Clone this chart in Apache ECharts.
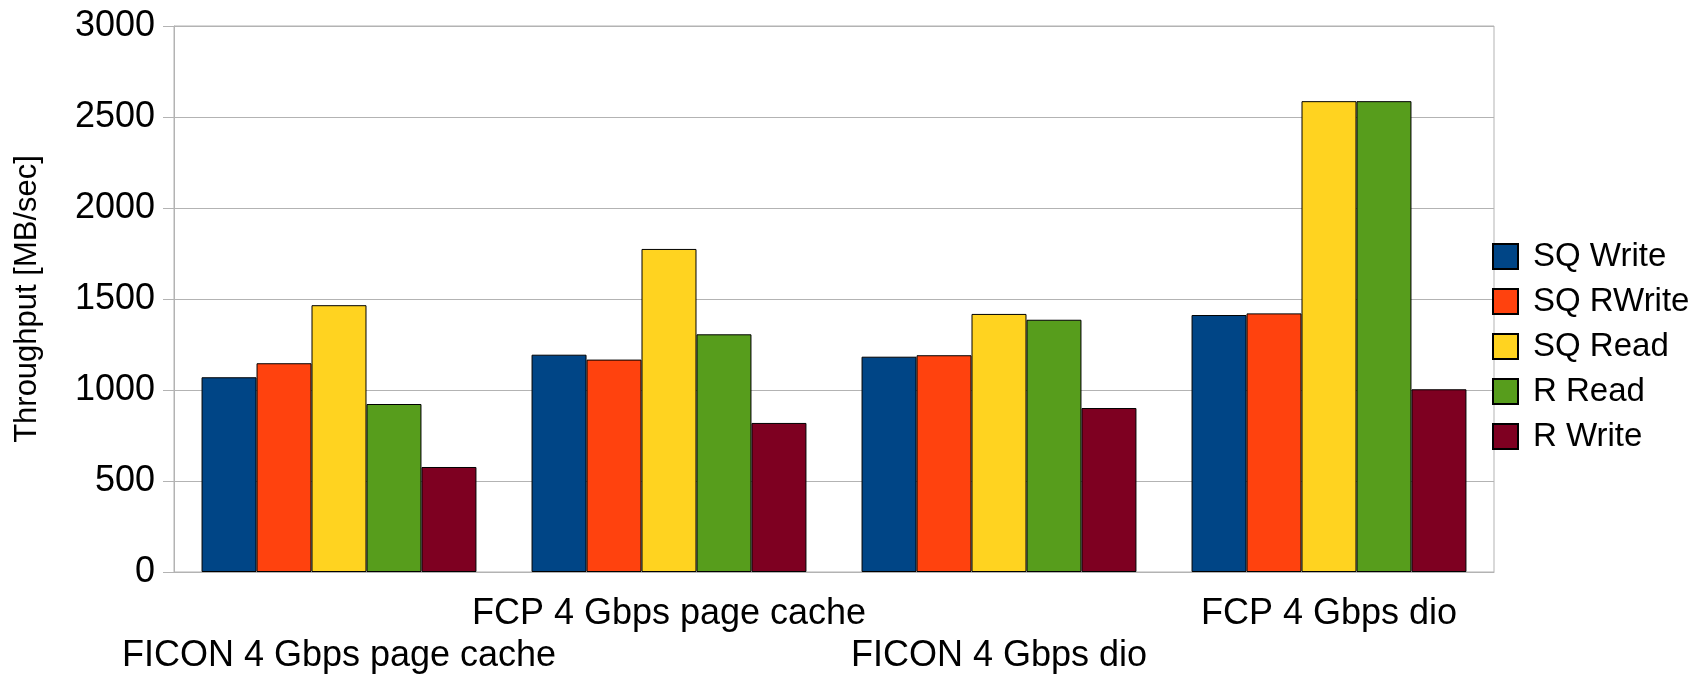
<!DOCTYPE html>
<html>
<head>
<meta charset="utf-8">
<script src="https://cdn.jsdelivr.net/npm/echarts@6/dist/echarts.min.js"></script>
<style>
  html, body { margin: 0; padding: 0; background: #fff; }
  #chart { width: 1696px; height: 674px; }
</style>
</head>
<body>
<div id="chart"></div>
<script>
// Throughput per configuration, MB/sec
const categories = ['FICON 4 Gbps page cache', 'FCP 4 Gbps page cache', 'FICON 4 Gbps dio', 'FCP 4 Gbps dio'];
const seriesNames = ['SQ Write', 'SQ RWrite', 'SQ Read', 'R Read', 'R Write'];
const sqWrite  = [1070, 1194, 1183, 1412];
const sqRWrite = [1147, 1167, 1191, 1421];
const sqRead   = [1466, 1775, 1418, 2587];
const rRead    = [923, 1306, 1386, 2587];
const rWrite   = [577, 819, 901, 1004];
const seriesValues = [sqWrite, sqRWrite, sqRead, rRead, rWrite];
const colors = ['#004586', '#ff420e', '#ffd320', '#579d1c', '#7e0021'];

const FONT = '"Liberation Sans", Arial, sans-serif';
const GRID_GRAY = '#b3b3b3';

const chart = echarts.init(document.getElementById('chart'), null, { renderer: 'canvas' });

chart.setOption({
  animation: false,
  backgroundColor: '#ffffff',
  textStyle: { fontFamily: FONT },
  grid: {
    left: 174, right: 202, top: 26, bottom: 102,
    containLabel: false,
    outerBoundsMode: 'none',
    show: true, borderColor: GRID_GRAY, borderWidth: 1, backgroundColor: 'transparent'
  },
  legend: {
    orient: 'vertical',
    left: 1487, top: 235,
    itemWidth: 25, itemHeight: 25, itemGap: 12,
    icon: 'rect',
    textStyle: { fontFamily: FONT, fontSize: 33, lineHeight: 33, color: '#000', padding: [0, 0, 0, 10] },
    data: seriesNames
  },
  xAxis: {
    type: 'category',
    data: categories,
    boundaryGap: true,
    axisLine: { lineStyle: { color: GRID_GRAY } },
    axisTick: { alignWithLabel: true, length: 13, lineStyle: { color: GRID_GRAY } },
    axisLabel: {
      interval: 0,
      margin: 21,
      fontFamily: FONT, fontSize: 36, color: '#000', lineHeight: 42,
      formatter: (v, i) => (i % 2 === 0 ? ' \n' + v : v)
    },
    splitLine: { show: false }
  },
  yAxis: {
    type: 'value',
    min: 0, max: 3000, interval: 500,
    name: 'Throughput [MB/sec]',
    nameLocation: 'middle',
    nameGap: 131,
    nameTextStyle: { fontFamily: FONT, fontSize: 31, color: '#000' },
    axisLine: { show: true, lineStyle: { color: GRID_GRAY } },
    axisTick: { show: true, length: 11, lineStyle: { color: GRID_GRAY } },
    axisLabel: { margin: 19, fontFamily: FONT, fontSize: 36, color: '#000', formatter: v => String(v) },
    splitLine: { show: true, lineStyle: { color: GRID_GRAY, width: 1 } }
  },
  series: seriesNames.map((name, i) => ({
    name,
    type: 'bar',
    data: seriesValues[i],
    barGap: '0%',
    barCategoryGap: '16.7%',
    itemStyle: { color: colors[i], borderColor: '#000', borderWidth: 1 }
  }))
});
</script>
</body>
</html>
